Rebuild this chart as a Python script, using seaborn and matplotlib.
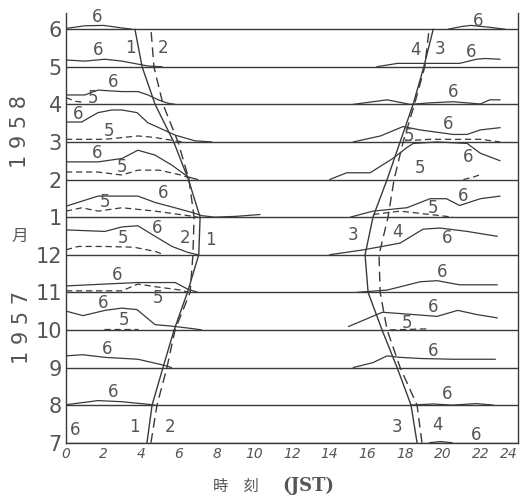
import numpy as np
import pandas as pd
import matplotlib
matplotlib.use("Agg")
import matplotlib.pyplot as plt
import seaborn as sns

# month rows, bottom (Jul 1957) to top (Jun 1958)
month_labels = ["7", "8", "9", "10", "11", "12", "1", "2", "3", "4", "5", "6"]
month_idx = list(range(12))
hour_ticks = list(range(0, 25, 2))

# boundary curves (hour at each month line)
curve1_hr = [4.3, 4.57, 5.15, 5.74, 6.45, 7.05, 7.12, 6.5, 5.72, 4.73, 4.04, 3.66]
curve2_hr = [4.51, 4.83, 5.36, 5.79, 6.59, 6.74, 6.8, 6.53, 5.95, 5.15, 4.67, 4.51]
curve3_hr = [18.64, 18.32, 17.58, 16.78, 16.04, 15.88, 16.3, 17.05, 17.74, 18.43, 19.0, 19.5]
curve4_hr = [18.9, 18.64, 17.74, 17.05, 16.68, 16.62, 17.1, 17.42, 17.9, 18.5, 19.05, 19.28]

# profiles: (hour, height above month line), "6" solid, "5" dashed
jun_am6 = [(0, 0.02), (1, 0.09), (2, 0.1), (3, 0.03), (3.5, 0)]
jun_pm6 = [(20.3, 0), (21, 0.07), (21.5, 0.1), (22.5, 0.05), (23.3, 0)]
may_am6 = [(0, 0.18), (1.0, 0.15), (2.07, 0.2), (2.97, 0.15), (3.82, 0.07), (4.35, 0.02), (5.1, 0)]
may_pm6 = [(16.5, 0), (17.6, 0.09), (18.7, 0.09), (20.9, 0.09), (21.8, 0.2), (22.25, 0.22), (23.05, 0.2)]
apr_am6 = [(0, 0.25), (1.0, 0.25), (1.7, 0.38), (2.3, 0.36), (2.97, 0.34), (3.82, 0.34),
           (4.35, 0.25), (4.9, 0.12), (5.4, 0.03), (5.8, 0)]
apr_am5 = [(0, 0.18), (0.5, 0.08), (1.0, 0.05)]
apr_pm6 = [(15.25, 0), (17.05, 0.12), (18.27, 0), (19.33, 0.04), (20.55, 0.07), (22.0, 0.01),
           (22.5, 0.12), (23.05, 0.12)]
mar_am6 = [(0, 0.53), (0.83, 0.53), (1.7, 0.78), (2.44, 0.85), (2.97, 0.85), (3.77, 0.78),
           (4.35, 0.51), (5.1, 0.34), (5.8, 0.18), (6.85, 0.03), (7.75, 0)]
mar_am5 = [(0, 0.07), (2.07, 0.07), (3.82, 0.16), (4.7, 0.12), (5.8, 0.03), (6.2, 0)]
mar_pm6 = [(15.25, 0), (16.7, 0.16), (17.9, 0.41), (18.8, 0.32), (20.55, 0.2), (21.3, 0.2),
           (22.0, 0.32), (23.05, 0.38)]
mar_pm5 = [(18.0, 0.03), (19.33, 0.07), (22.0, 0.07), (23.05, 0.0)]
feb_am6 = [(0, 0.47), (1.7, 0.47), (2.97, 0.56), (3.82, 0.78), (4.73, 0.65), (5.63, 0.38),
           (6.48, 0.07), (7.0, 0)]
feb_am5 = [(0, 0.2), (1.7, 0.2), (2.97, 0.12), (3.82, 0.25), (4.95, 0.25), (6.1, 0.12), (6.8, 0)]
feb_pm6 = [(14.0, 0), (14.9, 0.18), (16.15, 0.18), (17.35, 0.56), (18.1, 0.85), (18.43, 0.96),
           (19.7, 1.0), (21.3, 0.96), (22.0, 0.7), (23.05, 0.5)]
feb_pm5 = [(21.1, 0.0), (21.6, 0.06), (22.0, 0.13)]
jan_am6 = [(0, 0.29), (1.7, 0.56), (3.82, 0.56), (4.73, 0.39), (5.63, 0.27), (6.8, 0.11),
           (7.2, 0.04), (7.9, 0), (9.0, 0.02), (10.3, 0.07)]
jan_am5 = [(0, 0.16), (0.85, 0.25), (1.7, 0.16), (2.97, 0.25), (4.73, 0.16), (6.48, 0.04), (7.0, 0)]
jan_pm6 = [(15.1, 0), (16.3, 0.16), (18.1, 0.25), (19.33, 0.49), (20.2, 0.49), (20.9, 0.31),
           (22.0, 0.49), (23.05, 0.56)]
jan_pm5 = [(16.3, 0.07), (17.74, 0.16), (19.33, 0.07), (20.55, 0)]
dec_am6 = [(0, 0.66), (2.07, 0.62), (2.97, 0.74), (3.82, 0.77), (4.73, 0.49), (5.63, 0.22),
           (6.48, 0.06), (7.0, 0)]
dec_am5 = [(0, 0.13), (0.65, 0.22), (2.07, 0.22), (3.6, 0.2), (4.73, 0.09), (5.2, 0)]
dec_pm6 = [(14.0, 0), (15.8, 0.13), (17.74, 0.31), (18.96, 0.68), (19.86, 0.71), (21.3, 0.62),
           (22.9, 0.49)]
nov_am6 = [(0, 0.17), (2.07, 0.22), (3.82, 0.26), (5.8, 0.26), (6.48, 0.08), (7.0, 0)]
nov_am5 = [(0, 0.04), (2.97, 0.04), (3.82, 0.22), (4.73, 0.15), (6.1, 0.06), (6.5, 0)]
nov_pm6 = [(15.45, 0), (17.05, 0.06), (18.8, 0.28), (19.7, 0.31), (20.9, 0.2), (22.9, 0.2)]
oct_am6 = [(0, 0.5), (0.9, 0.38), (2.07, 0.52), (2.97, 0.58), (3.77, 0.54), (4.73, 0.14),
           (5.63, 0.1), (6.8, 0.03), (7.2, 0)]
oct_am5 = [(2.0, 0.03), (3.8, 0.03)]
oct_pm6 = [(15.0, 0.09), (16.8, 0.47), (18.43, 0.41), (19.7, 0.36), (20.8, 0.52), (21.8, 0.41),
           (22.9, 0.32)]
oct_pm5 = [(17.2, 0.0), (19.3, 0.03)]
sep_am6 = [(0, 0.31), (0.9, 0.34), (2.07, 0.27), (3.82, 0.22), (5.2, 0.06), (5.6, 0)]
sep_pm6 = [(15.25, 0), (16.3, 0.13), (17.05, 0.31), (17.74, 0.27), (18.8, 0.24), (20.55, 0.22),
           (22.8, 0.22)]
aug_am6 = [(0, 0.01), (1.7, 0.12), (2.97, 0.09), (4.2, 0.03), (4.7, 0)]
aug_pm6 = [(18.27, 0), (19.5, 0.03), (20.5, 0.0), (21.8, 0.04), (22.7, 0)]
jul_pm6 = [(19.3, 0), (19.9, 0.03), (20.5, 0)]

# in-plot number labels: hour, row value, text
lab_x = [1.65, 21.9, 1.7, 21.5, 2.5, 1.45, 20.55, 0.65, 2.3, 20.3, 18.2,
         1.65, 3.0, 21.35, 18.8, 5.15, 2.07, 21.1, 19.5,
         4.83, 3.03, 6.32, 7.65, 20.25, 15.25, 17.6,
         2.7, 4.9, 19.95, 1.95, 3.1, 19.5, 18.1, 2.2, 19.5, 2.5, 20.25,
         0.5, 3.65, 5.5, 17.6, 19.75, 21.8, 3.4, 5.15, 18.55, 19.85]
lab_y = [11.33, 11.22, 10.44, 10.39, 9.6, 9.17, 9.33, 8.74, 8.29, 8.47, 8.15,
         7.7, 7.33, 7.6, 7.3, 6.65, 6.39, 6.55, 6.25,
         5.71, 5.44, 5.44, 5.39, 5.45, 5.53, 5.61,
         4.46, 3.86, 4.53, 3.72, 3.27, 3.62, 3.19, 2.49, 2.43, 1.35, 1.29,
         0.34, 0.42, 0.42, 0.42, 0.47, 0.2, 10.5, 10.5, 10.44, 10.47]
lab_t = ["6", "6", "6", "6", "6", "5", "6", "6", "5", "6", "5",
         "6", "5", "6", "5", "6", "5", "6", "5",
         "6", "5", "2", "1", "6", "3", "4",
         "6", "5", "6", "6", "5", "6", "5", "6", "6", "6", "6",
         "6", "1", "2", "3", "4", "6", "1", "2", "4", "3"]

segments = [
    (11, "6", jun_am6), (11, "6", jun_pm6),
    (10, "6", may_am6), (10, "6", may_pm6),
    (9, "6", apr_am6), (9, "5", apr_am5), (9, "6", apr_pm6),
    (8, "6", mar_am6), (8, "5", mar_am5), (8, "6", mar_pm6), (8, "5", mar_pm5),
    (7, "6", feb_am6), (7, "5", feb_am5), (7, "6", feb_pm6), (7, "5", feb_pm5),
    (6, "6", jan_am6), (6, "5", jan_am5), (6, "6", jan_pm6), (6, "5", jan_pm5),
    (5, "6", dec_am6), (5, "5", dec_am5), (5, "6", dec_pm6),
    (4, "6", nov_am6), (4, "5", nov_am5), (4, "6", nov_pm6),
    (3, "6", oct_am6), (3, "5", oct_am5), (3, "6", oct_pm6), (3, "5", oct_pm5),
    (2, "6", sep_am6), (2, "6", sep_pm6),
    (1, "6", aug_am6), (1, "6", aug_pm6),
    (0, "6", jul_pm6),
]

rows = []
for k, (m, kind, pts) in enumerate(segments):
    for h, v in pts:
        rows.append({"seg": k, "kind": kind, "hour": h, "val": m + v})
prof_df = pd.DataFrame(rows)

curve_rows = []
for name, kind, hrs in [("c1", "6", curve1_hr), ("c2", "5", curve2_hr),
                        ("c3", "6", curve3_hr), ("c4", "5", curve4_hr)]:
    for m, h in zip(month_idx, hrs):
        curve_rows.append({"seg": name, "kind": kind, "hour": h, "val": m})
curve_df = pd.DataFrame(curve_rows)

sns.set_style("white")
plt.rcParams["font.family"] = ["DejaVu Sans", "Noto Sans CJK JP"]

ink = "#3a3a3a"
txt = "#555555"

fig = plt.figure(figsize=(5.24, 4.98), dpi=100)
ax = fig.add_axes([66 / 524, 1 - 442.7 / 498, 452 / 524, 429.7 / 498])

for m in month_idx:
    ax.axhline(m, color=ink, lw=1.0, zorder=1)

sns.lineplot(data=prof_df, x="hour", y="val", units="seg", style="kind",
             dashes={"6": "", "5": (5, 3)},
             estimator=None, sort=False, color=ink, lw=0.9, legend=False, ax=ax)
sns.lineplot(data=curve_df, x="hour", y="val", units="seg", style="kind",
             dashes={"6": "", "5": (7, 4)},
             estimator=None, sort=False, color=ink, lw=1.0, legend=False, ax=ax)

for x, y, t in zip(lab_x, lab_y, lab_t):
    ax.text(x, y, t, fontsize=12, color=txt, ha="center", va="center")

ax.set_xlim(0, 24)
ax.set_ylim(0, 11.43)
ax.set_xticks(hour_ticks)
ax.set_xticklabels([str(h) for h in hour_ticks], fontsize=10, color=txt, style="italic")
ax.get_xticklabels()[-1].set_horizontalalignment("right")
ax.set_yticks(month_idx)
ax.set_yticklabels(month_labels, fontsize=15, color=txt)
ax.tick_params(length=0, pad=3)
ax.set_xlabel("")
ax.set_ylabel("")
ax.spines["top"].set_visible(False)
for s in ["left", "right", "bottom"]:
    ax.spines[s].set_color(ink)
    ax.spines[s].set_linewidth(1.0)

fig.text(20 / 524, 1 - 132 / 498, "1 9 5 8", rotation=90, fontsize=15, color=txt,
         ha="center", va="center")
fig.text(22 / 524, 1 - 328 / 498, "1 9 5 7", rotation=90, fontsize=15, color=txt,
         ha="center", va="center")
fig.text(20 / 524, 1 - 236 / 498, "月", fontsize=12, color=txt, ha="center", va="center",
         family=["Noto Sans CJK JP", "DejaVu Sans"])
fig.text(236 / 524, 1 - 486 / 498, "時　刻", fontsize=11, color=txt, ha="center", va="center",
         family=["Noto Sans CJK JP", "DejaVu Sans"])
fig.text(308 / 524, 1 - 486 / 498, "(JST)", fontsize=13, color=txt, ha="center", va="center",
         family=["DejaVu Serif"], weight="bold")

fig.savefig("out.png", dpi=100)
